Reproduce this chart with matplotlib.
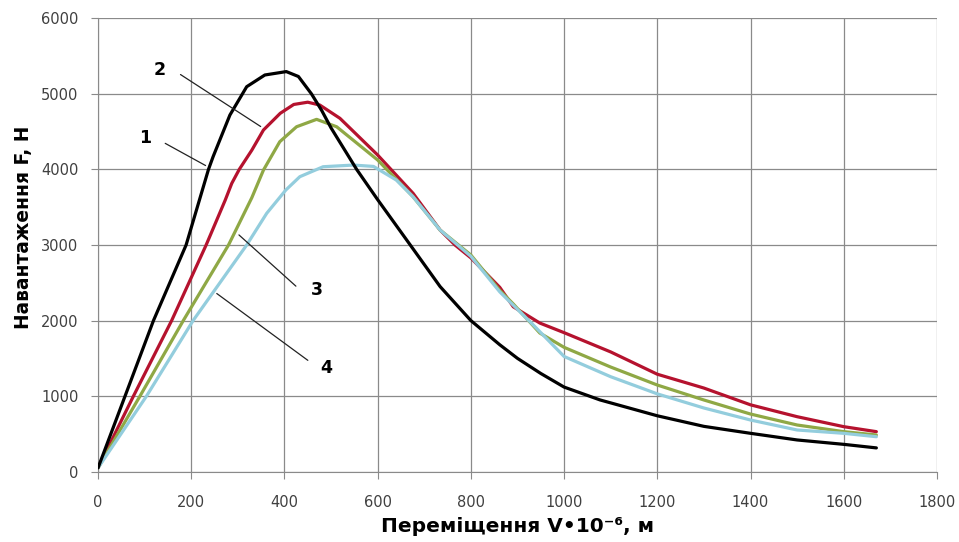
import matplotlib
matplotlib.use("Agg")
import matplotlib.pyplot as plt

# curve 1 (black)
x1 = [0, 58, 119, 189, 237, 247, 283, 319, 358, 404, 430, 458, 480, 500, 555, 600, 670,
      734, 800, 862, 900, 950, 1000, 1077, 1200, 1300, 1400, 1500, 1600, 1670]
y1 = [50, 1000, 2000, 3000, 4000, 4170, 4720, 5095, 5250, 5295, 5230, 5000, 4780, 4550,
      4000, 3600, 3000, 2450, 2000, 1680, 1500, 1300, 1120, 950, 740, 600, 508, 420, 362, 315]

# curve 2 (red)
x2 = [0, 76, 158, 232, 273, 287, 303, 330, 355, 391, 420, 450, 476, 519, 600, 676, 734,
      766, 800, 862, 891, 948, 1000, 1100, 1200, 1300, 1400, 1500, 1600, 1670]
y2 = [50, 1000, 2000, 3000, 3595, 3816, 4000, 4255, 4522, 4743, 4860, 4890, 4852, 4677,
      4191, 3684, 3198, 3000, 2830, 2440, 2183, 1967, 1840, 1585, 1290, 1107, 885, 728, 596, 530]

# curve 3 (green)
x3 = [0, 90, 183, 280, 300, 330, 355, 390, 426, 469, 512, 600, 676, 734, 800, 862, 891,
      948, 1000, 1100, 1200, 1300, 1400, 1500, 1600, 1670]
y3 = [50, 1000, 2000, 3000, 3250, 3626, 3992, 4367, 4565, 4663, 4565, 4125, 3639, 3198,
      2868, 2400, 2220, 1835, 1646, 1385, 1147, 949, 763, 618, 530, 486]

# curve 4 (light blue)
x4 = [0, 104, 204, 319, 362, 403, 433, 483, 548, 591, 640, 676, 734, 800, 862, 934, 1000,
      1100, 1200, 1300, 1400, 1500, 1600, 1670]
y4 = [50, 1000, 2000, 3000, 3420, 3728, 3904, 4036, 4058, 4040, 3860, 3639, 3198, 2850,
      2380, 1941, 1525, 1257, 1030, 843, 684, 552, 508, 463]

fig = plt.figure(figsize=(9.59, 5.42), dpi=100)
ax = fig.add_axes([0.1022, 0.1297, 0.8748, 0.8365])

kw = dict(lw=2.3, solid_joinstyle="round", solid_capstyle="round")
ax.plot(x2, y2, color="#B5122E", zorder=3, **kw)
ax.plot(x3, y3, color="#8FA845", zorder=4, **kw)
ax.plot(x4, y4, color="#93CDDD", zorder=5, **kw)
ax.plot(x1, y1, color="#000000", zorder=6, **kw)

# curve numbers with leader lines
labels = [
    ("1", (101, 4416), (139, 4363), (236, 4034)),
    ("2", (133, 5316), (172, 5276), (354, 4548)),
    ("3", (470, 2404), (429, 2431), (298, 3158)),
    ("4", (489, 1372), (455, 1452), (250, 2380)),
]
for txt, tpos, start, end in labels:
    ax.text(*tpos, txt, ha="center", va="center", fontsize=12.5, fontweight="bold",
            family="DejaVu Sans", zorder=7)
    ax.annotate("", xy=end, xytext=start,
                arrowprops=dict(arrowstyle="-", lw=0.9, color="#222222"), zorder=7)

ax.set_xlim(0, 1800)
ax.set_ylim(0, 6000)
ax.set_xticks(range(0, 1801, 200))
ax.set_yticks(range(0, 6001, 1000))
ax.grid(True, color="#8a8a8a", lw=0.9)
ax.set_axisbelow(True)
for s in ["top", "right"]:
    ax.spines[s].set_visible(False)
for s in ["left", "bottom"]:
    ax.spines[s].set_color("#8a8a8a")
ax.tick_params(direction="out", length=5, color="#8a8a8a", labelsize=10.5,
               labelcolor="#404040")
ax.tick_params(axis="x", pad=11.5)
ax.tick_params(axis="y", pad=9)

ax.set_xlabel("Переміщення V•10⁻⁶, м", fontsize=14.5, fontweight="bold")
ax.set_ylabel("Навантаження F, Н", fontsize=13.4, fontweight="bold")
ax.xaxis.set_label_coords(0.5, -0.1)
ax.yaxis.set_label_coords(-0.077, 0.538)

fig.savefig("out.png", dpi=100)
